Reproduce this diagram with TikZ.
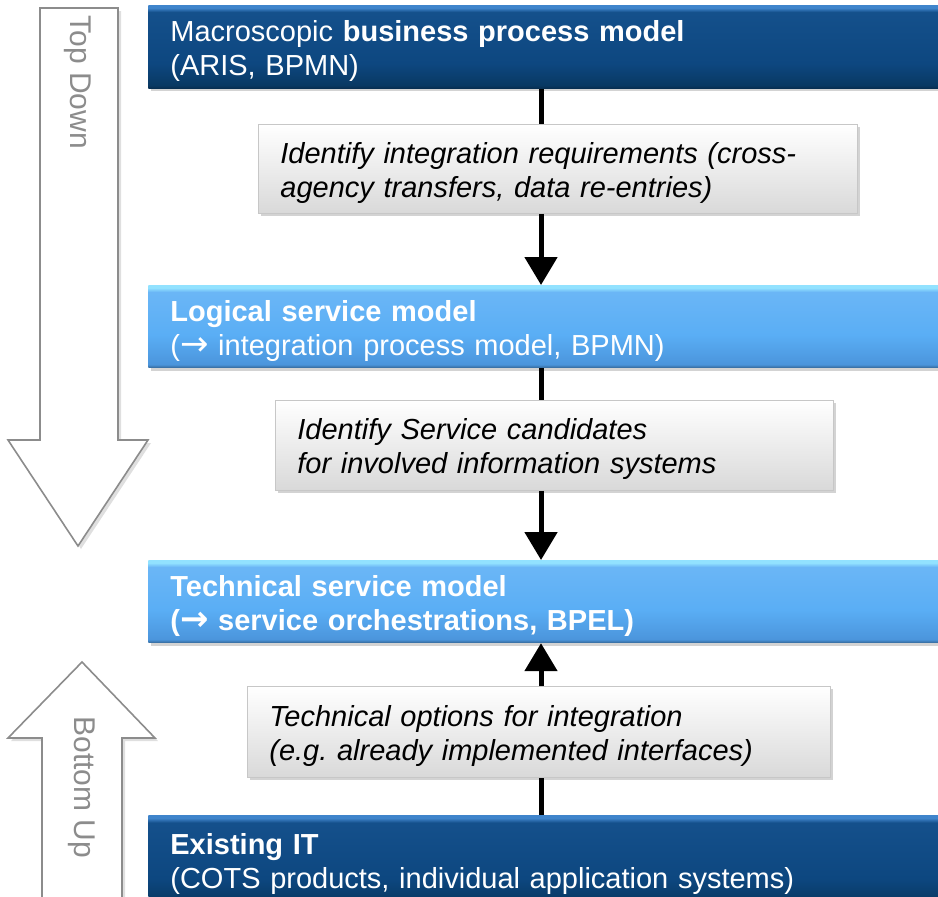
\documentclass[tikz,border=0pt]{standalone}
\usepackage{fontspec}
\setmainfont{Liberation Sans}
\newfontfamily\arrowfont{DejaVu Sans}
\usetikzlibrary{arrows.meta,shadows}
\frenchspacing

\definecolor{navyedge}{HTML}{3F84CB}
\definecolor{navymid}{HTML}{0D4780}
\definecolor{navybot}{HTML}{093963}
\definecolor{skyedge}{HTML}{92E2FF}
\definecolor{skymid}{HTML}{5AAEF5}
\definecolor{skybot}{HTML}{4B95DC}
\definecolor{arrowgray}{HTML}{8C8C8C}

\pgfdeclareverticalshading{navybevel}{100bp}{color(0bp)=(navybot!80!black); color(25bp)=(navybot!80!black);
  color(27bp)=(navybot); color(40bp)=(navymid); color(71bp)=(navymid!85!navyedge); color(73.5bp)=(navyedge); color(100bp)=(navyedge)}
\pgfdeclareverticalshading{skybevel}{100bp}{color(0bp)=(skybot!70!black); color(25bp)=(skybot!70!black);
  color(27bp)=(skybot); color(45bp)=(skymid); color(71bp)=(skymid!90!white); color(73.5bp)=(skyedge); color(100bp)=(skyedge)}

\newcommand{\toarrow}{{\arrowfont\fontsize{17}{17}\selectfont →}}

\tikzset{
  layerbox/.style={anchor=north west, text width=374pt, align=left, inner xsep=11pt,
    text=white, font=\fontsize{14.5}{17}\selectfont, execute at begin node={\rule{0pt}{14.5pt}},
    drop shadow={shadow xshift=1.5pt, shadow yshift=-1.5pt, opacity=0.35}},
  darkbox/.style={layerbox, minimum height=41.5pt, shading=navybevel},
  lightbox/.style={layerbox, minimum height=40.5pt, shading=skybevel},
  stepbox/.style={anchor=north west, align=left, inner xsep=11pt, minimum height=44.5pt,
    font=\fontsize{14.5}{17}\selectfont\itshape, top color=white, bottom color=black!15,
    execute at begin node={\rule{0pt}{14.5pt}},
    draw=black!22, drop shadow={shadow xshift=1.5pt, shadow yshift=-1.5pt, opacity=0.35}},
  link/.style={line width=2.5pt},
  flow/.style={link, -{Triangle[width=16pt,length=14pt]}},
  bigarrow/.style={draw=arrowgray, line width=0.8pt, fill=white,
    drop shadow={shadow xshift=1.5pt, shadow yshift=-1.5pt, opacity=0.25}},
  sidelabel/.style={rotate=-90, anchor=west, text=arrowgray, font=\fontsize{15}{17}\selectfont, inner sep=0pt}
}

\begin{document}
\begin{tikzpicture}[x=0.5pt, y=-0.5pt]
\useasboundingbox (0,0) rectangle (938,896);

% side arrows
\path[bigarrow] (40,8) -- (118,8) -- (118,440) -- (148,440) -- (78,546) -- (8,440) -- (40,440) -- cycle;
\node[sidelabel] (topdown) at (78,15) {Top Down};
\path[bigarrow] (82,662) -- (155,738) -- (122,738) -- (122,905) -- (42,905) -- (42,738) -- (8,738) -- cycle;
\node[sidelabel] (bottomup) at (82,716) {Bottom Up};

\coordinate (spine) at (541,0);

\path (148,5) node (business) [darkbox] {Macroscopic \textbf{business process model}\\(ARIS, BPMN)};
\path (258,124) node (requirements) [stepbox, text width=277.5pt] {Identify integration requirements (cross-\\agency transfers, data re-entries)};
\path (148,285) node (logical) [lightbox] {\textbf{Logical service model}\\(\toarrow\ integration process model, BPMN)};
\path (275,400) node (candidates) [stepbox, text width=257pt, minimum height=45pt] {Identify Service candidates\\for involved information systems};
\path (148,560) node (technical) [lightbox, font=\fontsize{14.5}{17}\selectfont\bfseries] {Technical service model\\(\toarrow\ service orchestrations, BPEL)};
\path (247,686) node (options) [stepbox, text width=269.5pt, minimum height=45.5pt] {Technical options for integration\\(e.g. already implemented interfaces)};
\path (148,815) node (existing) [darkbox, minimum height=45pt] {\textbf{Existing IT}\\(COTS products, individual application systems)};

\draw[link] (business.south -| spine) -- (requirements.north -| spine);
\draw[flow] (requirements.south -| spine) -- (logical.north -| spine);
\draw[link] (logical.south -| spine) -- (candidates.north -| spine);
\draw[flow] (candidates.south -| spine) -- (technical.north -| spine);
\draw[link] (existing.north -| spine) -- (options.south -| spine);
\draw[flow] (options.north -| spine) -- (technical.south -| spine);

\end{tikzpicture}
\end{document}
